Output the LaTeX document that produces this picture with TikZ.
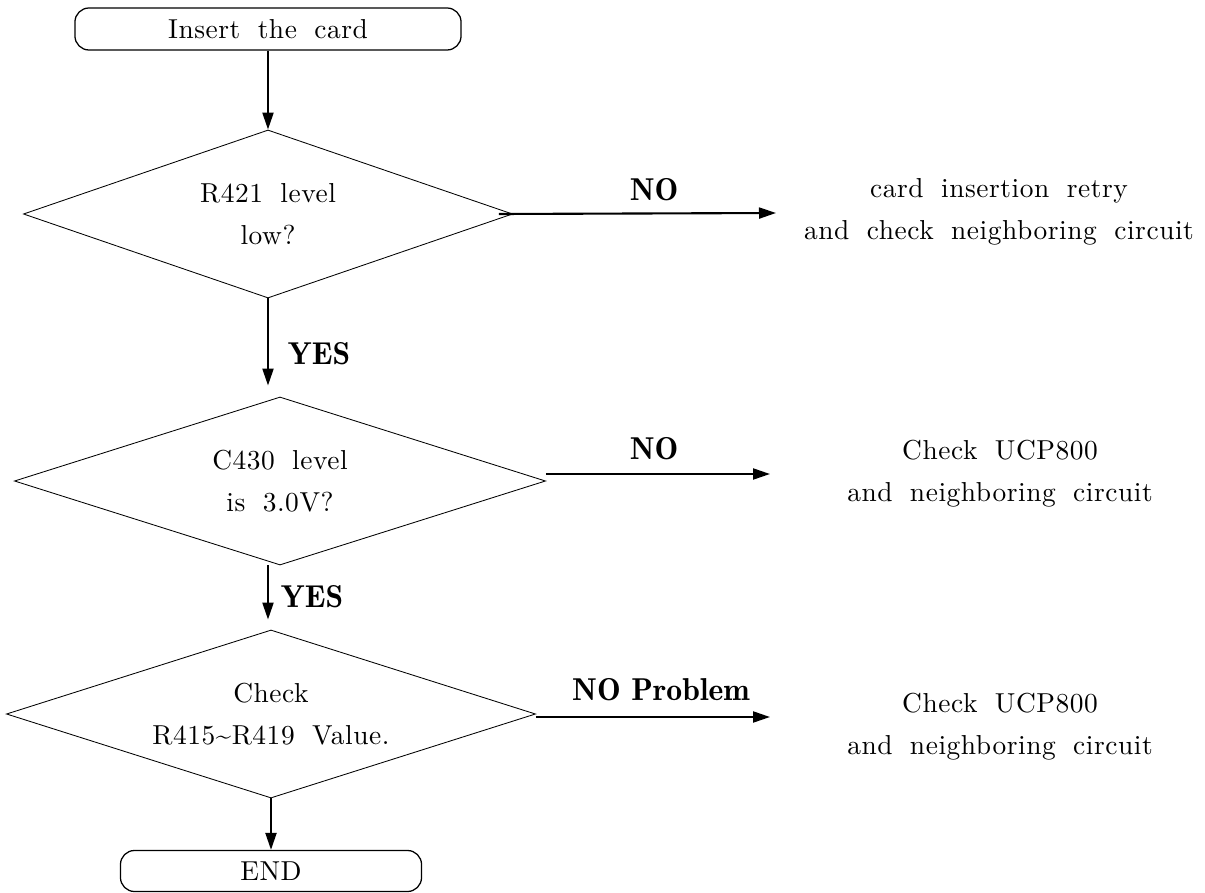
\documentclass[tikz,border=0pt]{standalone}
\usepackage{fontspec}
\setmainfont{lmroman10-regular}[Extension=.otf,LetterSpace=2,WordSpace=1.8]
\newfontfamily\lblfont{lmromandemi10-regular}[Extension=.otf]
\usetikzlibrary{shapes.geometric,arrows.meta}
\newcommand{\px}{0.025cm}

\begin{document}
\begin{tikzpicture}[x=\px, y=-\px,
  every node/.append style={font=\fontsize{19.5}{30}\selectfont, align=center},
  terminal/.style={draw, line width=0.9pt, rounded corners=0.35cm, inner sep=0pt},
  decision/.style={draw, diamond, line width=0.6pt, inner sep=0pt, aspect=3},
  flow/.style={line width=1.5pt, -{Triangle[length=0.425cm, width=0.275cm]}},
  lbl/.style={font=\lblfont\fontsize{22.5}{22.5}\selectfont},
  note/.style={inner sep=0pt}]
  \useasboundingbox (0,0) rectangle (1205,893);

  \node[terminal, minimum width=9.65cm, minimum height=1.05cm] (start) at (268,29) {Insert the card};
  \node[decision, minimum width=12.225cm, minimum height=4.2cm] (d1) at (268,214) {R421 level\\low?};
  \node[decision, minimum width=13.275cm, minimum height=4.2cm] (d2) at (280,481) {C430 level\\is 3.0V?};
  \node[decision, minimum width=13.225cm, minimum height=4.2cm] (d3) at (271,714) {Check\\R415\textasciitilde R419 Value.};
  \node[terminal, minimum width=7.525cm, minimum height=1.025cm] (end) at (271,871) {END};

  \node[note] (t1) at (999,212) {card insertion retry\\and check neighboring circuit};
  \node[note] (t2) at (1000,474) {Check UCP800\\and neighboring circuit};
  \node[note] (t3) at (1000,727) {Check UCP800\\and neighboring circuit};

  \node[lbl] (no1) at (654,190) {NO};
  \node[lbl] (yes1) at (319,354) {YES};
  \node[lbl] (no2) at (654,449) {NO};
  \node[lbl] (yes2) at (312,597) {YES};
  \node[lbl] (noprob) at (661,690) {NO Problem};

  \coordinate (e1) at (776,213);
  \coordinate (e2) at (770,474);
  \coordinate (e3) at (770,717);

  \draw[flow] (start) -- (d1);
  \draw[flow, shorten >=0.275cm] (d1.south) -- (d1.south |- d2.north);
  \draw[flow, shorten >=0.25cm] (d1.south |- d2.south) -- (d1.south |- d3.north);
  \draw[flow] (d3) -- (end);
  \draw[flow] ([xshift=-0.35cm]d1.east) -- (e1);
  \draw[flow] (d2.east |- e2) -- (e2);
  \draw[flow] (d3.east |- e3) -- (e3);
\end{tikzpicture}
\end{document}
